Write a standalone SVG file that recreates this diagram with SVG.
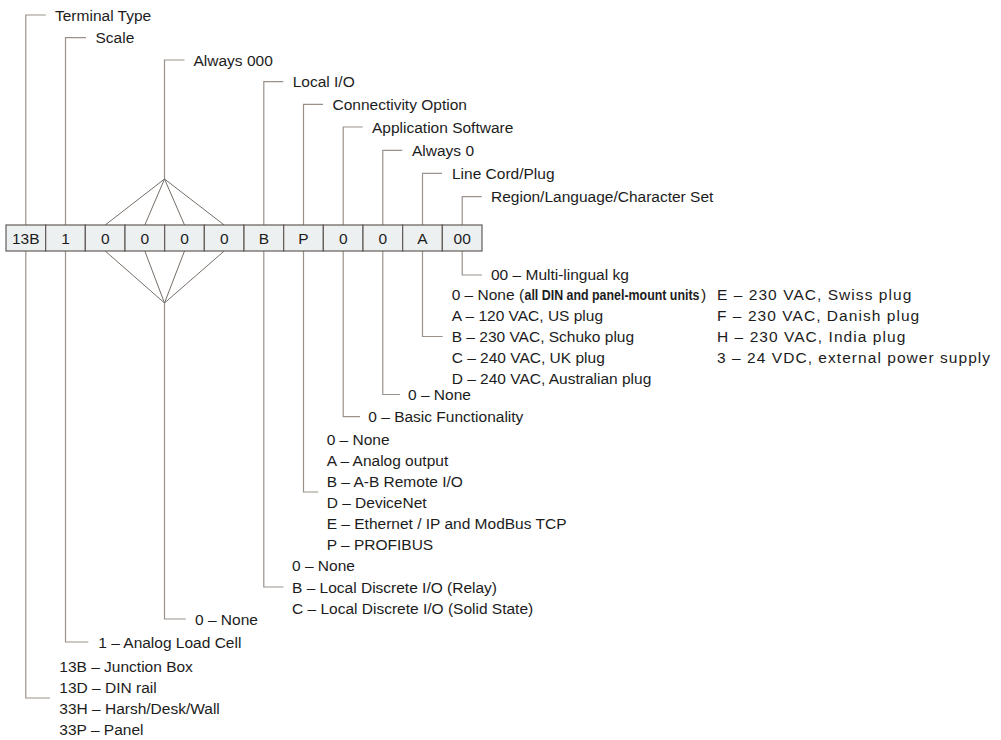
<svg xmlns="http://www.w3.org/2000/svg" width="1001" height="740" viewBox="0 0 1001 740">
<style>
text{font-family:"Liberation Sans",Arial,sans-serif;font-size:15.5px;fill:#1c1c1c}
.c{text-anchor:middle}
.b{font-weight:bold;font-size:14.5px}
.w{letter-spacing:1.05px}
.ln{fill:none;stroke:#9a918a;stroke-width:1.2}
.dm{fill:none;stroke:#766e68;stroke-width:1}
.cell{fill:#edf0f1;stroke:#625c57;stroke-width:1.2}
</style>
<rect width="1001" height="740" fill="#ffffff"/>
<g id="connectors">
<path class="ln" d="M25.8,225V15H45.8"/>
<path class="ln" d="M65.5,225V37.7H86"/>
<path class="ln" d="M164.5,179V60H184.5"/>
<path class="ln" d="M263.8,225V81.7H283.3"/>
<path class="ln" d="M303.5,225V104.3H323"/>
<path class="ln" d="M343.2,225V127H362.7"/>
<path class="ln" d="M382.8,225V150.3H402.3"/>
<path class="ln" d="M422.5,225V173.3H442"/>
<path class="ln" d="M462.2,225V196.7H481.7"/>
<path class="dm" d="M105.2,225L164.5,179L224.2,225M144.8,225L164.5,179L184.5,225"/>
<path class="dm" d="M105.2,251L164.5,303L224.2,251M144.8,251L164.5,303L184.5,251"/>
<path class="ln" d="M462.2,251V275H482"/>
<path class="ln" d="M422.5,251V336.5H442.7"/>
<path class="ln" d="M382.8,251V394.5H400"/>
<path class="ln" d="M343.2,251V416.7H360"/>
<path class="ln" d="M303.5,251V492H318.3"/>
<path class="ln" d="M263.8,251V587H283.3"/>
<path class="ln" d="M164.5,303V619H185.7"/>
<path class="ln" d="M65.5,251V642H88.3"/>
<path class="ln" d="M25.8,251V698H50"/>
</g>
<g id="code">
<rect class="cell" x="6" y="225" width="39.67" height="26"/>
<rect class="cell" x="45.67" y="225" width="39.67" height="26"/>
<rect class="cell" x="85.33" y="225" width="39.67" height="26"/>
<rect class="cell" x="125" y="225" width="39.67" height="26"/>
<rect class="cell" x="164.67" y="225" width="39.67" height="26"/>
<rect class="cell" x="204.33" y="225" width="39.67" height="26"/>
<rect class="cell" x="244" y="225" width="39.67" height="26"/>
<rect class="cell" x="283.67" y="225" width="39.67" height="26"/>
<rect class="cell" x="323.33" y="225" width="39.67" height="26"/>
<rect class="cell" x="363" y="225" width="39.67" height="26"/>
<rect class="cell" x="402.67" y="225" width="39.67" height="26"/>
<rect class="cell" x="442.33" y="225" width="39.67" height="26"/>
<text class="c" x="25.8" y="243.5">13B</text>
<text class="c" x="65.5" y="243.5">1</text>
<text class="c" x="105.2" y="243.5">0</text>
<text class="c" x="144.8" y="243.5">0</text>
<text class="c" x="184.5" y="243.5">0</text>
<text class="c" x="224.2" y="243.5">0</text>
<text class="c" x="263.8" y="243.5">B</text>
<text class="c" x="303.5" y="243.5">P</text>
<text class="c" x="343.2" y="243.5">0</text>
<text class="c" x="382.8" y="243.5">0</text>
<text class="c" x="422.5" y="243.5">A</text>
<text class="c" x="462.2" y="243.5">00</text>
</g>
<g id="terminal-type">
<text x="55" y="20.5">Terminal Type</text>
<text x="59.3" y="671.5">13B – Junction Box</text>
<text x="59.3" y="692.5">13D – DIN rail</text>
<text x="59.3" y="713.5">33H – Harsh/Desk/Wall</text>
<text x="59.3" y="734.5">33P – Panel</text>
</g>
<g id="scale">
<text x="95.5" y="43.2">Scale</text>
<text x="98.3" y="647.5">1 – Analog Load Cell</text>
</g>
<g id="always-000">
<text x="193.5" y="65.5">Always 000</text>
<text x="195" y="624.5">0 – None</text>
</g>
<g id="local-io">
<text x="292.7" y="87.2">Local I/O</text>
<text x="292" y="571.2">0 – None</text>
<text x="292" y="592.5">B – Local Discrete I/O (Relay)</text>
<text x="292" y="613.5">C – Local Discrete I/O (Solid State)</text>
</g>
<g id="connectivity">
<text x="332.5" y="109.8">Connectivity Option</text>
<text x="326.7" y="444.5">0 – None</text>
<text x="326.7" y="465.5">A – Analog output</text>
<text x="326.7" y="486.5">B – A-B Remote I/O</text>
<text x="326.7" y="507.5">D – DeviceNet</text>
<text x="326.7" y="528.5">E – Ethernet / IP and ModBus TCP</text>
<text x="326.7" y="549.5">P – PROFIBUS</text>
</g>
<g id="application-software">
<text x="372" y="132.5">Application Software</text>
<text x="368.3" y="422.2">0 – Basic Functionality</text>
</g>
<g id="always-0">
<text x="412" y="155.8">Always 0</text>
<text x="408" y="400">0 – None</text>
</g>
<g id="line-cord">
<text x="452" y="178.8">Line Cord/Plug</text>
<text x="451.7" y="300">0 – None (</text>
<text class="b" x="524.5" y="300" textLength="175" lengthAdjust="spacingAndGlyphs">all DIN and panel-mount units</text>
<text x="701" y="300">)</text>
<text class="w" x="717" y="300">E – 230 VAC, Swiss plug</text>
<text x="451.7" y="321">A – 120 VAC, US plug</text>
<text x="451.7" y="342">B – 230 VAC, Schuko plug</text>
<text x="451.7" y="363">C – 240 VAC, UK plug</text>
<text x="451.7" y="384">D – 240 VAC, Australian plug</text>
<text class="w" x="717" y="321">F – 230 VAC, Danish plug</text>
<text class="w" x="717" y="342">H – 230 VAC, India plug</text>
<text class="w" x="717" y="363">3 – 24 VDC, external power supply</text>
</g>
<g id="region">
<text x="491" y="202.2">Region/Language/Character Set</text>
<text x="491" y="279.5">00 – Multi-lingual kg</text>
</g>
</svg>
